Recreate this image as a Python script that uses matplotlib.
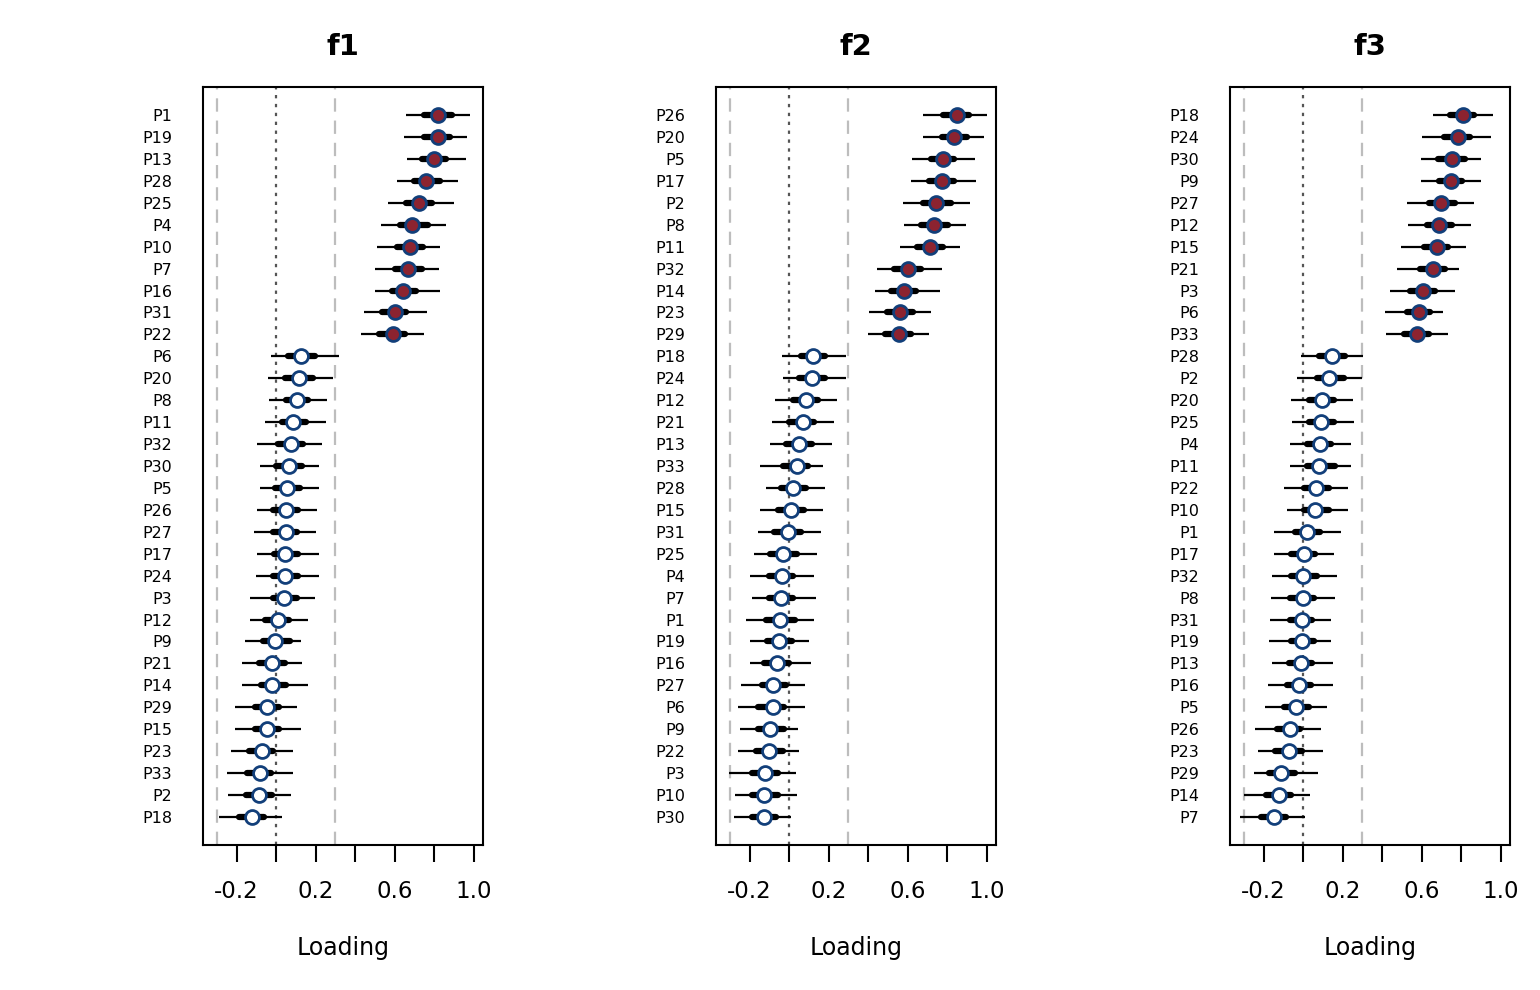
import matplotlib
matplotlib.use("Agg")
import matplotlib.pyplot as plt
import numpy as np

# f1 — items sorted by loading (top to bottom)
f1_items = ["P1", "P19", "P13", "P28", "P25", "P4", "P10", "P7", "P16", "P31", "P22",
            "P6", "P20", "P8", "P11", "P32", "P30", "P5", "P26", "P27", "P17", "P24",
            "P3", "P12", "P9", "P21", "P14", "P29", "P15", "P23", "P33", "P2", "P18"]
f1_mid = [0.82, 0.82, 0.80, 0.76, 0.725, 0.69, 0.68, 0.67, 0.645, 0.60, 0.59,
          0.127, 0.116, 0.108, 0.088, 0.078, 0.066, 0.057, 0.051, 0.049, 0.046, 0.046,
          0.039, 0.010, -0.005, -0.019, -0.019, -0.046, -0.046, -0.071, -0.083, -0.086, -0.123]
f1_lo95 = [0.66, 0.65, 0.665, 0.61, 0.565, 0.53, 0.51, 0.50, 0.50, 0.445, 0.43,
           -0.025, -0.042, -0.035, -0.054, -0.095, -0.083, -0.081, -0.096, -0.11, -0.095, -0.10,
           -0.13, -0.13, -0.155, -0.172, -0.17, -0.206, -0.206, -0.226, -0.246, -0.245, -0.29]
f1_hi95 = [0.98, 0.965, 0.96, 0.92, 0.90, 0.86, 0.83, 0.825, 0.83, 0.763, 0.75,
           0.32, 0.289, 0.26, 0.251, 0.233, 0.219, 0.216, 0.208, 0.20, 0.216, 0.219,
           0.197, 0.164, 0.127, 0.133, 0.164, 0.106, 0.127, 0.084, 0.086, 0.076, 0.03]
f1_lo50 = [0.75, 0.75, 0.74, 0.70, 0.66, 0.63, 0.61, 0.60, 0.585, 0.535, 0.52,
           0.062, 0.046, 0.049, 0.029, 0.012, 0.0, -0.005, -0.013, -0.017, -0.01, -0.017,
           -0.017, -0.056, -0.064, -0.086, -0.078, -0.106, -0.106, -0.135, -0.145, -0.152, -0.186]
f1_hi50 = [0.89, 0.88, 0.86, 0.83, 0.79, 0.77, 0.745, 0.74, 0.71, 0.66, 0.655,
           0.197, 0.186, 0.164, 0.15, 0.138, 0.133, 0.123, 0.11, 0.105, 0.113, 0.11,
           0.105, 0.068, 0.071, 0.046, 0.05, 0.017, 0.017, -0.013, -0.025, -0.022, -0.059]

# f2
f2_items = ["P26", "P20", "P5", "P17", "P2", "P8", "P11", "P32", "P14", "P23", "P29",
            "P18", "P24", "P12", "P21", "P13", "P33", "P28", "P15", "P31", "P25", "P4",
            "P7", "P1", "P19", "P16", "P27", "P6", "P9", "P22", "P3", "P10", "P30"]
f2_mid = [0.849, 0.837, 0.778, 0.775, 0.743, 0.736, 0.716, 0.603, 0.584, 0.564, 0.555,
          0.123, 0.115, 0.086, 0.069, 0.051, 0.039, 0.022, 0.010, -0.003, -0.03, -0.034,
          -0.039, -0.046, -0.051, -0.061, -0.081, -0.083, -0.096, -0.10, -0.123, -0.125, -0.127]
f2_lo95 = [0.677, 0.678, 0.624, 0.618, 0.577, 0.584, 0.564, 0.447, 0.434, 0.405, 0.398,
           -0.037, -0.03, -0.073, -0.084, -0.095, -0.145, -0.116, -0.145, -0.159, -0.18, -0.20,
           -0.19, -0.218, -0.20, -0.20, -0.241, -0.26, -0.25, -0.26, -0.302, -0.273, -0.277]
f2_hi95 = [1.003, 0.986, 0.94, 0.947, 0.915, 0.896, 0.866, 0.773, 0.763, 0.717, 0.707,
           0.289, 0.289, 0.245, 0.226, 0.218, 0.17, 0.182, 0.174, 0.162, 0.14, 0.127,
           0.135, 0.127, 0.103, 0.113, 0.083, 0.083, 0.046, 0.051, 0.037, 0.039, 0.012]
f2_lo50 = [0.78, 0.773, 0.72, 0.71, 0.677, 0.668, 0.65, 0.533, 0.516, 0.495, 0.488,
           0.061, 0.049, 0.022, 0.002, -0.013, -0.032, -0.04, -0.057, -0.074, -0.096, -0.10,
           -0.10, -0.116, -0.113, -0.125, -0.138, -0.155, -0.155, -0.167, -0.189, -0.187, -0.189]
f2_hi50 = [0.91, 0.90, 0.837, 0.837, 0.82, 0.803, 0.778, 0.668, 0.643, 0.626, 0.618,
           0.184, 0.184, 0.145, 0.128, 0.115, 0.095, 0.086, 0.078, 0.061, 0.039, 0.022,
           0.022, 0.029, 0.015, -0.002, -0.015, -0.024, -0.027, -0.032, -0.057, -0.057, -0.066]

# f3
f3_items = ["P18", "P24", "P30", "P9", "P27", "P12", "P15", "P21", "P3", "P6", "P33",
            "P28", "P2", "P20", "P25", "P4", "P11", "P22", "P10", "P1", "P17", "P32",
            "P8", "P31", "P19", "P13", "P16", "P5", "P26", "P23", "P29", "P14", "P7"]
f3_mid = [0.81, 0.785, 0.753, 0.748, 0.70, 0.687, 0.678, 0.657, 0.606, 0.587, 0.577,
          0.149, 0.132, 0.095, 0.093, 0.084, 0.083, 0.068, 0.062, 0.022, 0.005, 0.002,
          0.0, -0.003, -0.007, -0.01, -0.019, -0.035, -0.068, -0.073, -0.113, -0.12, -0.149]
f3_lo95 = [0.657, 0.603, 0.596, 0.597, 0.527, 0.532, 0.498, 0.474, 0.44, 0.414, 0.422,
           -0.012, -0.029, -0.059, -0.056, -0.066, -0.066, -0.098, -0.083, -0.147, -0.147, -0.155,
           -0.164, -0.169, -0.174, -0.159, -0.18, -0.194, -0.241, -0.228, -0.25, -0.30, -0.317]
f3_hi95 = [0.96, 0.954, 0.90, 0.90, 0.868, 0.851, 0.825, 0.792, 0.771, 0.71, 0.732,
           0.305, 0.299, 0.255, 0.258, 0.241, 0.243, 0.228, 0.228, 0.192, 0.157, 0.172,
           0.16, 0.142, 0.143, 0.15, 0.15, 0.12, 0.089, 0.10, 0.076, 0.034, 0.012]
f3_lo50 = [0.746, 0.712, 0.682, 0.687, 0.636, 0.628, 0.611, 0.594, 0.543, 0.527, 0.513,
           0.079, 0.071, 0.032, 0.032, 0.02, 0.02, 0.003, 0.003, -0.042, -0.059, -0.059,
           -0.064, -0.064, -0.059, -0.073, -0.081, -0.098, -0.132, -0.143, -0.17, -0.187, -0.211]
f3_hi50 = [0.864, 0.847, 0.819, 0.805, 0.768, 0.754, 0.734, 0.717, 0.67, 0.645, 0.636,
           0.214, 0.206, 0.155, 0.155, 0.143, 0.164, 0.133, 0.133, 0.088, 0.062, 0.071,
           0.054, 0.046, 0.054, 0.046, 0.04, 0.029, -0.014, -0.005, -0.042, -0.059, -0.086]

panels = [
    ("f1", f1_items, f1_mid, f1_lo95, f1_hi95, f1_lo50, f1_hi50),
    ("f2", f2_items, f2_mid, f2_lo95, f2_hi95, f2_lo50, f2_hi50),
    ("f3", f3_items, f3_mid, f3_lo95, f3_hi95, f3_lo50, f3_hi50),
]

CUTOFF = 0.3
EDGE = "#123f7a"
FILL = "#8c2330"

fig = plt.figure(figsize=(15.4, 9.9), dpi=100)
lefts = [203 / 1540, 716 / 1540, 1230 / 1540]

for left, (name, items, mid, lo95, hi95, lo50, hi50) in zip(lefts, panels):
    ax = fig.add_axes([left, 145 / 990, 280 / 1540, 758 / 990])
    n = len(items)
    y = np.arange(1, n + 1)
    mid = np.asarray(mid)

    ax.axvline(-CUTOFF, color="#bdbdbd", lw=1.6, ls=(0, (6, 4)), zorder=1)
    ax.axvline(CUTOFF, color="#bdbdbd", lw=1.6, ls=(0, (6, 4)), zorder=1)
    ax.axvline(0, color="#555555", lw=1.6, ls=(0, (1.5, 2.5)), zorder=1)

    ax.hlines(y, lo95, hi95, color="black", lw=1.6, zorder=2)
    ax.hlines(y, lo50, hi50, color="black", lw=4.5, capstyle="round", zorder=3)

    big = np.abs(mid) > CUTOFF
    ax.plot(mid[big], y[big], "o", ms=10, mfc=FILL, mec=EDGE, mew=2, zorder=4)
    ax.plot(mid[~big], y[~big], "o", ms=10, mfc="white", mec=EDGE, mew=2, zorder=4)

    ax.set_xlim(-0.37, 1.048)
    ax.set_ylim(n + 1.28, 1 - 1.28)
    ax.set_xticks([-0.2, 0.0, 0.2, 0.4, 0.6, 0.8, 1.0])
    ax.set_xticklabels(["-0.2", "", "0.2", "", "0.6", "", "1.0"], fontsize=16.5)
    ax.tick_params(axis="x", length=12, width=1.5, pad=13)
    ax.set_yticks(y)
    ax.set_yticklabels(items, fontsize=11.5)
    ax.tick_params(axis="y", length=0, pad=22)
    for s in ax.spines.values():
        s.set_linewidth(1.5)
    ax.spines["bottom"].set_visible(False)
    ax.set_xlabel("Loading", fontsize=17, labelpad=24)
    ax.set_title(name, fontsize=21, fontweight="bold", pad=23)
    # bottom spine drawn as box edge
    ax.plot([0, 1], [0, 0], transform=ax.transAxes, color="black", lw=1.5, clip_on=False)

fig.savefig("out.png", dpi=100)
